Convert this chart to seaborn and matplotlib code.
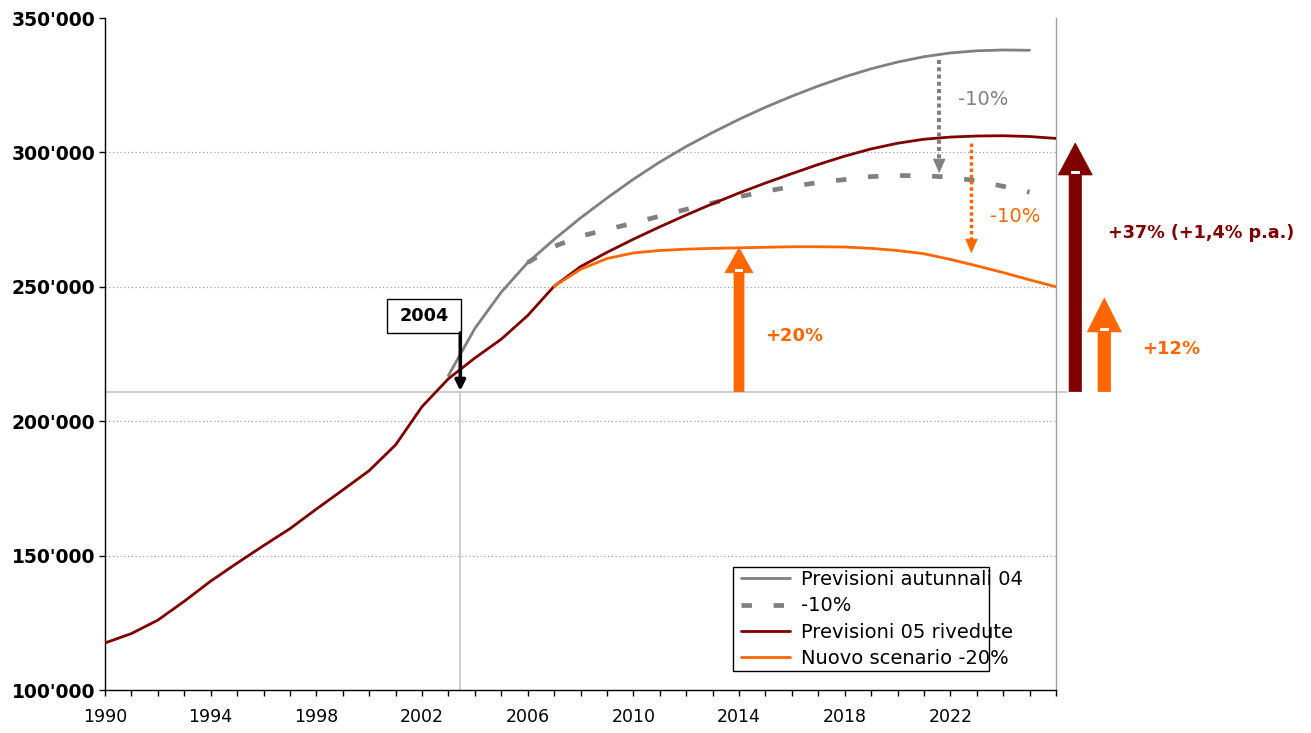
import matplotlib
matplotlib.use("Agg")
import matplotlib.pyplot as plt
from matplotlib.patches import FancyArrow, Rectangle
from matplotlib.ticker import FuncFormatter
import seaborn as sns

# ---- data -----------------------------------------------------------------
years_revised = list(range(1990, 2027))
revised_05 = [117500, 121000, 126000, 133000, 140500, 147200, 153700, 160000,
              167300, 174400, 181600, 191200, 205400, 215800, 223500, 230500,
              239300, 250200, 257500, 262800, 267700, 272300, 276700, 280900,
              284900, 288600, 292100, 295500, 298600, 301300, 303400, 304900,
              305700, 306100, 306200, 305900, 305200]

years_autumn = list(range(2003, 2026))
autumn_04 = [217000, 234500, 248000, 259000, 267600, 275600, 283000, 290000,
             296400, 302200, 307400, 312300, 316800, 320900, 324700, 328100,
             331100, 333600, 335600, 337000, 337800, 338100, 338000]

years_minus10 = list(range(2006, 2026))
minus_10 = [259000, 265000, 268800, 271300, 273700, 276300, 278800, 281200,
            283500, 285500, 287300, 288800, 289900, 291000, 291400, 291300,
            290800, 289400, 287400, 285200]

years_scenario = list(range(2007, 2027))
scenario_20 = [250200, 256500, 260500, 262600, 263500, 264000, 264300, 264500,
               264700, 264900, 264900, 264800, 264300, 263500, 262300, 260200,
               257800, 255300, 252600, 250000]

series_labels = ["Previsioni autunnali 04", "-10%", "Previsioni 05 rivedute",
                 "Nuovo scenario -20%"]
tick_years = list(range(1990, 2027))
labelled_years = list(range(1990, 2023, 4))

base_2004 = 211000          # reference level of the 2004 marker
marker_year = 2003.45

GRAY = "#808080"
DARKRED = "#800000"
ORANGE = "#FF6600"
LIGHT = "#C0C0C0"

# ---- figure -----------------------------------------------------------------
sns.set_style("white")
plt.rcParams["font.family"] = ["DejaVu Sans"]
plt.rcParams["text.color"] = "black"
plt.rcParams["xtick.color"] = "black"
plt.rcParams["ytick.color"] = "black"
plt.rcParams["xtick.labelcolor"] = "black"
plt.rcParams["ytick.labelcolor"] = "black"

W, H = 1311, 733
fig = plt.figure(figsize=(W / 100, H / 100), dpi=100)
ax = fig.add_axes([105 / W, 1 - 690 / H, (1056 - 105) / W, (690 - 18) / H])

# dotted horizontal grid
for gy in [150000, 200000, 250000, 300000]:
    ax.axhline(gy, color="#A0A0A0", lw=0.9, ls=(0, (1, 2)), zorder=0)

# 2004 reference lines
ax.plot([1990, 2026.41], [base_2004, base_2004], color=LIGHT, lw=1.1,
        clip_on=False, zorder=1)
ax.plot([marker_year, marker_year], [100000, base_2004], color=LIGHT, lw=1.1,
        zorder=1)

sns.lineplot(x=years_autumn, y=autumn_04, color=GRAY, lw=2.0,
             label=series_labels[0], ax=ax, zorder=3)
sns.lineplot(x=years_minus10, y=minus_10, color=GRAY, lw=3.4,
             linestyle=(0, (2.2, 4.6)), label=series_labels[1], ax=ax, zorder=3)
sns.lineplot(x=years_revised, y=revised_05, color=DARKRED, lw=2.0,
             label=series_labels[2], ax=ax, zorder=4)
sns.lineplot(x=years_scenario, y=scenario_20, color=ORANGE, lw=2.0,
             label=series_labels[3], ax=ax, zorder=4)

ax.set_xlim(1990, 2026)
ax.set_ylim(100000, 350000)
ax.set_xlabel("")
ax.set_ylabel("")

ax.set_xticks(tick_years)
ax.set_xticklabels([str(y) if y in labelled_years else "" for y in tick_years])
ax.set_yticks(range(100000, 350001, 50000))
ax.yaxis.set_major_formatter(FuncFormatter(lambda v, p: f"{v:,.0f}".replace(",", "'")))
ax.tick_params(axis="x", direction="out", length=4, width=1, colors="black",
               labelsize=12.5, pad=9, bottom=True)
ax.tick_params(axis="y", direction="out", length=4, width=1, colors="black",
               labelsize=13.5, pad=3, left=True)
for lab in ax.get_yticklabels():
    lab.set_fontweight("bold")

ax.spines["top"].set_visible(False)
ax.spines["left"].set_color("black")
ax.spines["bottom"].set_color("black")
ax.spines["right"].set_color("#A0A0A0")
for s in ["left", "bottom", "right"]:
    ax.spines[s].set_linewidth(1)

# ---- legend -----------------------------------------------------------------
handles, labels = ax.get_legend_handles_labels()
leg = ax.legend(handles, labels, loc="upper left",
                bbox_to_anchor=(741 / W, 1 - 570 / H),
                bbox_transform=fig.transFigure, frameon=False, fontsize=14,
                handlelength=2.5, handletextpad=0.6, labelspacing=0.38,
                borderpad=0, borderaxespad=0)
for t in leg.get_texts():
    t.set_color("black")
fig.patches.append(Rectangle((733 / W, 1 - 671 / H), 256 / W, 104 / H,
                             transform=fig.transFigure, fill=False,
                             ec="black", lw=1))


# ---- annotations ------------------------------------------------------------
def block_arrow(x, y0, y1, shaft_w, head_w, head_len, color):
    ax.add_patch(FancyArrow(x, y0, 0, y1 - y0, width=shaft_w, head_width=head_w,
                            head_length=head_len, length_includes_head=True,
                            fc=color, ec=color, lw=0.5, clip_on=False, zorder=6))
    # small light notch at the base of the head
    ax.add_patch(Rectangle((x - shaft_w * 0.36, y1 - head_len + 300),
                           shaft_w * 0.72, 1100, fc="white", lw=0,
                           clip_on=False, zorder=7))


def dotted_arrow(x, y_top, y_tip, color, lw, head_len):
    ax.plot([x, x], [y_top, y_tip + head_len * 0.6], color=color, lw=lw,
            ls=(0, (1, 0.8)), solid_capstyle="butt", clip_on=False, zorder=6)
    ax.annotate("", xy=(x, y_tip), xytext=(x, y_tip + head_len),
                arrowprops=dict(arrowstyle="-|>,head_length=0.95,head_width=0.42",
                                color=color, lw=0.5, shrinkA=0, shrinkB=0),
                annotation_clip=False, zorder=6)


# +20% arrow up to the scenario level in 2014
block_arrow(2014, base_2004, scenario_20[years_scenario.index(2014)],
            0.38, 1.06, 9300, ORANGE)
ax.text(2014.98, 231700, "+20%", color=ORANGE, fontsize=13, fontweight="bold",
        va="center", ha="left")

# right-hand summary arrows
block_arrow(2026.73, base_2004, 303500, 0.47, 1.29, 11900, DARKRED)
block_arrow(2027.83, base_2004, 245800, 0.48, 1.29, 12600, ORANGE)
ax.text(2027.96, 270000, "+37% (+1,4% p.a.)", color=DARKRED, fontsize=12.7,
        fontweight="bold", va="center", ha="left", clip_on=False)
ax.text(2029.25, 226900, "+12%", color=ORANGE, fontsize=13, fontweight="bold",
        va="center", ha="left", clip_on=False)

# -10% steps
dotted_arrow(2021.58, 334500, 292300, GRAY, 2.9, 4800)
ax.text(2022.29, 319500, "-10%", color=GRAY, fontsize=14, va="center", ha="left")
dotted_arrow(2022.80, 303500, 262500, ORANGE, 2.5, 4500)
ax.text(2023.5, 276100, "-10%", color=ORANGE, fontsize=14, va="center", ha="left")

# 2004 callout
ax.add_patch(Rectangle((2000.67, 232800), 2.8, 12650, fc="white", ec="black",
                       lw=1, zorder=6))
ax.text(2002.07, 239100, "2004", fontsize=12.7, fontweight="bold",
        ha="center", va="center", zorder=7)
ax.annotate("", xy=(marker_year, base_2004 + 300), xytext=(marker_year, 232800),
            arrowprops=dict(arrowstyle="-|>,head_length=0.6,head_width=0.3",
                            color="black", lw=2.6, shrinkA=0, shrinkB=0),
            zorder=6)

fig.savefig("out.png", dpi=100)
